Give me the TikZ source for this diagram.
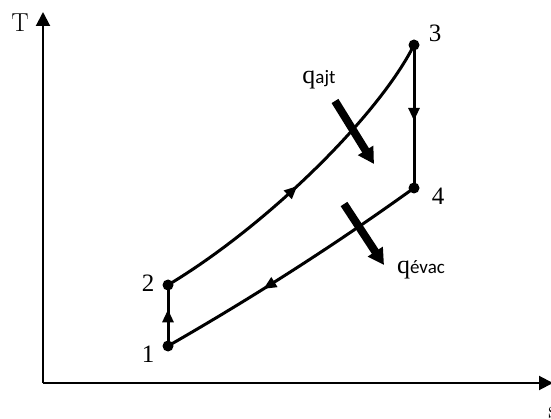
\documentclass[tikz,border=0pt]{standalone}
\usepackage{fontspec}
\newfontfamily\numf{Liberation Serif}
\newfontfamily\subf{Carlito}
\usetikzlibrary{arrows.meta,decorations.markings}
\tikzset{
  pt/.style={circle,fill=black,inner sep=0pt,minimum size=11pt},
  lbl/.style={font=\numf\fontsize{25}{25}\selectfont,inner sep=0pt},
  cyc/.style={line width=3pt},
  axis/.style={line width=2pt,-{Triangle[length=14pt,width=14pt]}},
  midarrow/.style={postaction={decorate},decoration={markings,mark=at position #1 with {\arrow{Triangle[length=13pt,width=11pt]}}}},
  heat/.style={line width=8pt,-{Triangle[length=16pt,width=17pt]},shorten <=0pt}
}
\begin{document}
\begin{tikzpicture}[x=1pt,y=-1pt]
\useasboundingbox (0,0) rectangle (551,419);
% axes
\coordinate (O) at (43,383);
\coordinate (Ytip) at (43,12);
\coordinate (Xtip) at (553,383);
\draw[axis] (O) -- (Ytip);
\draw[axis] (O) -- (Xtip);
\node[font=\fontsize{26}{26}\selectfont,inner sep=0pt] (T) at (20,23) {T};
\node[font=\fontsize{26}{26}\selectfont,inner sep=0pt,anchor=north] (S) at (553,407) {s};
% points
\node[pt] (p1) at (168,346) {};
\node[pt] (p2) at (168,285) {};
\node[pt] (p3) at (414,45) {};
\node[pt] (p4) at (414,188) {};
\node[lbl] (l1) at (148,354) {1};
\node[lbl] (l2) at (148,283) {2};
\node[lbl] (l3) at (435,33) {3};
\node[lbl] (l4) at (438,196) {4};
% cycle
\draw[cyc,midarrow=0.6] (p1.center) -- (p2.center);
\draw[cyc,midarrow=0.47] (p2.center) .. controls (268,225) and (379,115) .. (p3.center);
\draw[cyc,midarrow=0.53] (p3.center) -- (p4.center);
\draw[cyc,midarrow=0.62] (p4.center) .. controls (332,247) and (250,299) .. (p1.center);
% heat arrows
\coordinate (qa1) at (335,101);
\coordinate (qa2) at (374,164);
\coordinate (qe1) at (344,204);
\coordinate (qe2) at (384,265);
\draw[heat] (qa1) -- (qa2);
\draw[heat] (qe1) -- (qe2);
\node[inner sep=0pt] (qajt) at (319,80) {{\numf\fontsize{26}{26}\selectfont q}{\subf\fontsize{19}{19}\selectfont ajt}};
\node[inner sep=0pt] (qevac) at (421,270) {{\numf\fontsize{26}{26}\selectfont q}{\subf\fontsize{19}{19}\selectfont évac}};
\end{tikzpicture}
\end{document}
